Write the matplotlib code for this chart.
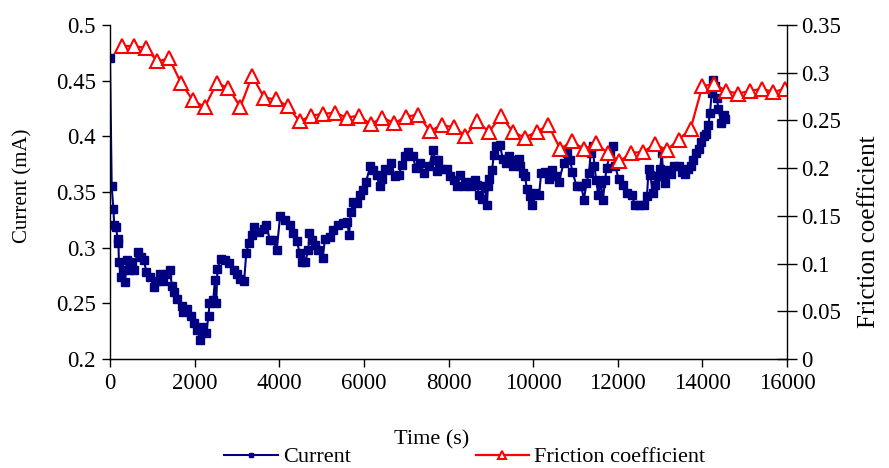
#import modules
import matplotlib
matplotlib.use('Agg')
import matplotlib.pyplot as plt

plt.rcParams['font.family'] = ['Liberation Serif', 'DejaVu Serif']

#current data (time in s, current in mA)
time_current = [0, 40, 80, 100, 140, 180, 200, 210, 260, 300, 350, 400, 450, 530, 570, 650, 730, 800, 860, 950,
                1030, 1100, 1190, 1260, 1340, 1420, 1460, 1510, 1590, 1690, 1730, 1830, 1910, 1990, 2060, 2130,
                2190, 2270, 2330, 2350, 2440, 2480, 2510, 2540, 2620, 2720, 2820, 2920, 3000, 3080, 3170, 3220,
                3280, 3350, 3410, 3510, 3630, 3690, 3780, 3860, 3940, 4020, 4140, 4260, 4330, 4410, 4490, 4530,
                4610, 4690, 4710, 4770, 4850, 4920, 5030, 5080, 5200, 5280, 5400, 5510, 5610, 5650, 5690, 5750,
                5840, 5910, 5990, 6050, 6150, 6220, 6300, 6380, 6420, 6500, 6580, 6650, 6730, 6830, 6890, 6970,
                7050, 7150, 7230, 7330, 7420, 7550, 7630, 7680, 7720, 7760, 7820, 7960, 8040, 8120, 8200, 8280,
                8360, 8440, 8520, 8620, 8670, 8730, 8790, 8870, 8910, 8930, 8960, 9030, 9070, 9120, 9220, 9280,
                9360, 9440, 9520, 9580, 9660, 9700, 9760, 9810, 9850, 9930, 9970, 10050, 10140, 10190, 10280,
                10380, 10440, 10540, 10610, 10720, 10800, 10870, 10930, 11030, 11140, 11200, 11260, 11320, 11360,
                11410, 11450, 11490, 11540, 11600, 11650, 11700, 11740, 11820, 11880, 11940, 12020, 12130, 12210,
                12330, 12410, 12510, 12610, 12690, 12730, 12770, 12830, 12890, 12940, 13000, 13040, 13080, 13120,
                13200, 13260, 13330, 13440, 13520, 13600, 13650, 13730, 13780, 13860, 13910, 13970, 14040, 14090,
                14140, 14180, 14220, 14260, 14300, 14340, 14380, 14440, 14500, 14540]
current = [0.470, 0.355, 0.335, 0.320, 0.319, 0.308, 0.304, 0.287, 0.274, 0.280, 0.269, 0.289, 0.280, 0.287, 0.280,
           0.296, 0.292, 0.289, 0.278, 0.274, 0.265, 0.270, 0.276, 0.270, 0.276, 0.280, 0.266, 0.260, 0.254, 0.248,
           0.242, 0.245, 0.239, 0.232, 0.226, 0.217, 0.229, 0.223, 0.239, 0.250, 0.253, 0.271, 0.250, 0.281, 0.290,
           0.289, 0.286, 0.280, 0.276, 0.272, 0.270, 0.295, 0.304, 0.311, 0.319, 0.314, 0.317, 0.320, 0.307, 0.307,
           0.298, 0.328, 0.325, 0.320, 0.313, 0.306, 0.295, 0.287, 0.287, 0.298, 0.313, 0.307, 0.302, 0.298, 0.291,
           0.308, 0.310, 0.316, 0.320, 0.322, 0.323, 0.311, 0.332, 0.341, 0.340, 0.347, 0.352, 0.359, 0.373, 0.370,
           0.365, 0.355, 0.362, 0.371, 0.370, 0.376, 0.364, 0.365, 0.374, 0.382, 0.386, 0.382, 0.372, 0.376, 0.367,
           0.373, 0.388, 0.379, 0.369, 0.379, 0.371, 0.371, 0.364, 0.361, 0.355, 0.365, 0.355, 0.359, 0.355, 0.361,
           0.356, 0.347, 0.344, 0.355, 0.338, 0.355, 0.362, 0.370, 0.383, 0.391, 0.392, 0.380, 0.376, 0.382, 0.373,
           0.379, 0.380, 0.373, 0.367, 0.364, 0.353, 0.346, 0.338, 0.349, 0.347, 0.367, 0.368, 0.362, 0.370, 0.364,
           0.359, 0.376, 0.385, 0.379, 0.368, 0.355, 0.355, 0.343, 0.358, 0.367, 0.385, 0.391, 0.373, 0.361, 0.347,
           0.358, 0.343, 0.361, 0.372, 0.385, 0.391, 0.373, 0.362, 0.356, 0.349, 0.347, 0.338, 0.338, 0.338, 0.346,
           0.371, 0.365, 0.349, 0.356, 0.364, 0.371, 0.385, 0.364, 0.358, 0.370, 0.366, 0.373, 0.373, 0.368, 0.366,
           0.371, 0.373, 0.379, 0.385, 0.389, 0.395, 0.400, 0.402, 0.410, 0.421, 0.439, 0.451, 0.445, 0.434, 0.425,
           0.412, 0.419, 0.416]

#friction coefficient data
time_friction = [280, 560, 840, 1120, 1400, 1680, 1960, 2240, 2520, 2800, 3080, 3360, 3640, 3920, 4200, 4480, 4760,
                 5040, 5320, 5600, 5880, 6160, 6440, 6720, 7000, 7280, 7560, 7840, 8120, 8400, 8680, 8960, 9240,
                 9520, 9800, 10080, 10360, 10640, 10920, 11200, 11480, 11760, 12040, 12320, 12600, 12880, 13160,
                 13440, 13720, 14000, 14280, 14560, 14840, 15120, 15400, 15680, 15960]
friction = [0.328, 0.328, 0.326, 0.312, 0.315, 0.289, 0.271, 0.264, 0.289, 0.284, 0.264, 0.297, 0.274, 0.272, 0.265,
            0.249, 0.255, 0.257, 0.258, 0.253, 0.255, 0.246, 0.253, 0.247, 0.254, 0.256, 0.239, 0.245, 0.243, 0.234,
            0.249, 0.238, 0.255, 0.238, 0.232, 0.238, 0.245, 0.220, 0.228, 0.220, 0.226, 0.216, 0.207, 0.216, 0.217,
            0.225, 0.219, 0.230, 0.241, 0.286, 0.288, 0.281, 0.278, 0.281, 0.283, 0.280, 0.283]

fig = plt.figure(figsize=(8.89, 4.68), dpi=100)
ax = fig.add_axes([110/889, 1-359/468, 677/889, 334/468])
ax2 = ax.twinx()

#plot current on left axis
l1, = ax.plot(time_current, current, color='#000080', lw=1.5, marker='s', ms=6,
              markeredgecolor='#000080', label='Current')

#plot friction on right axis
l2, = ax2.plot(time_friction, friction, color='#FF0000', lw=1.6, marker='^', ms=10,
               markerfacecolor='white', markeredgecolor='#FF0000', markeredgewidth=1.5,
               label='Friction coefficient')

#format axes
ax.set_xlim(0, 16000)
ax.set_ylim(0.2, 0.5)
ax.set_xticks(range(0, 16001, 2000))
ax.set_yticks([0.2, 0.25, 0.3, 0.35, 0.4, 0.45, 0.5])
ax.set_yticklabels(['0.2', '0.25', '0.3', '0.35', '0.4', '0.45', '0.5'])
ax2.set_ylim(0, 0.35)
ax2.set_yticks([0, 0.05, 0.1, 0.15, 0.2, 0.25, 0.3, 0.35])
ax2.set_yticklabels(['0', '0.05', '0.1', '0.15', '0.2', '0.25', '0.3', '0.35'])

ax.spines['top'].set_visible(False)
ax2.spines['top'].set_visible(False)
ax.spines['right'].set_visible(False)
ax2.spines['left'].set_visible(False)
for s in ['left', 'bottom']:
    ax.spines[s].set_linewidth(1.0)
ax2.spines['right'].set_linewidth(1.0)

ax.tick_params(axis='both', direction='out', length=6, width=1, labelsize=16.5, pad=4)
ax2.tick_params(axis='y', direction='inout', length=14, width=1, labelsize=16.5, pad=3)

ax.set_ylabel('Current (mA)', fontsize=15)
ax.yaxis.set_label_coords(-0.114, 0.52)
ax2.set_ylabel('Friction coefficient', fontsize=18)
ax2.yaxis.set_label_coords(1.105, 0.38)
fig.text(432/889, 1-440/468, 'Time (s)', fontsize=16, ha='center', va='center')

#legend below plot
fig.legend([l1, l2], ['Current', 'Friction coefficient'], ncol=2, loc='center',
           bbox_to_anchor=(465/889, 1-457/468), frameon=False, fontsize=16,
           handlelength=2.4, handletextpad=0.25, columnspacing=5.6, markerscale=0.6)

plt.savefig('out.png', dpi=100)
